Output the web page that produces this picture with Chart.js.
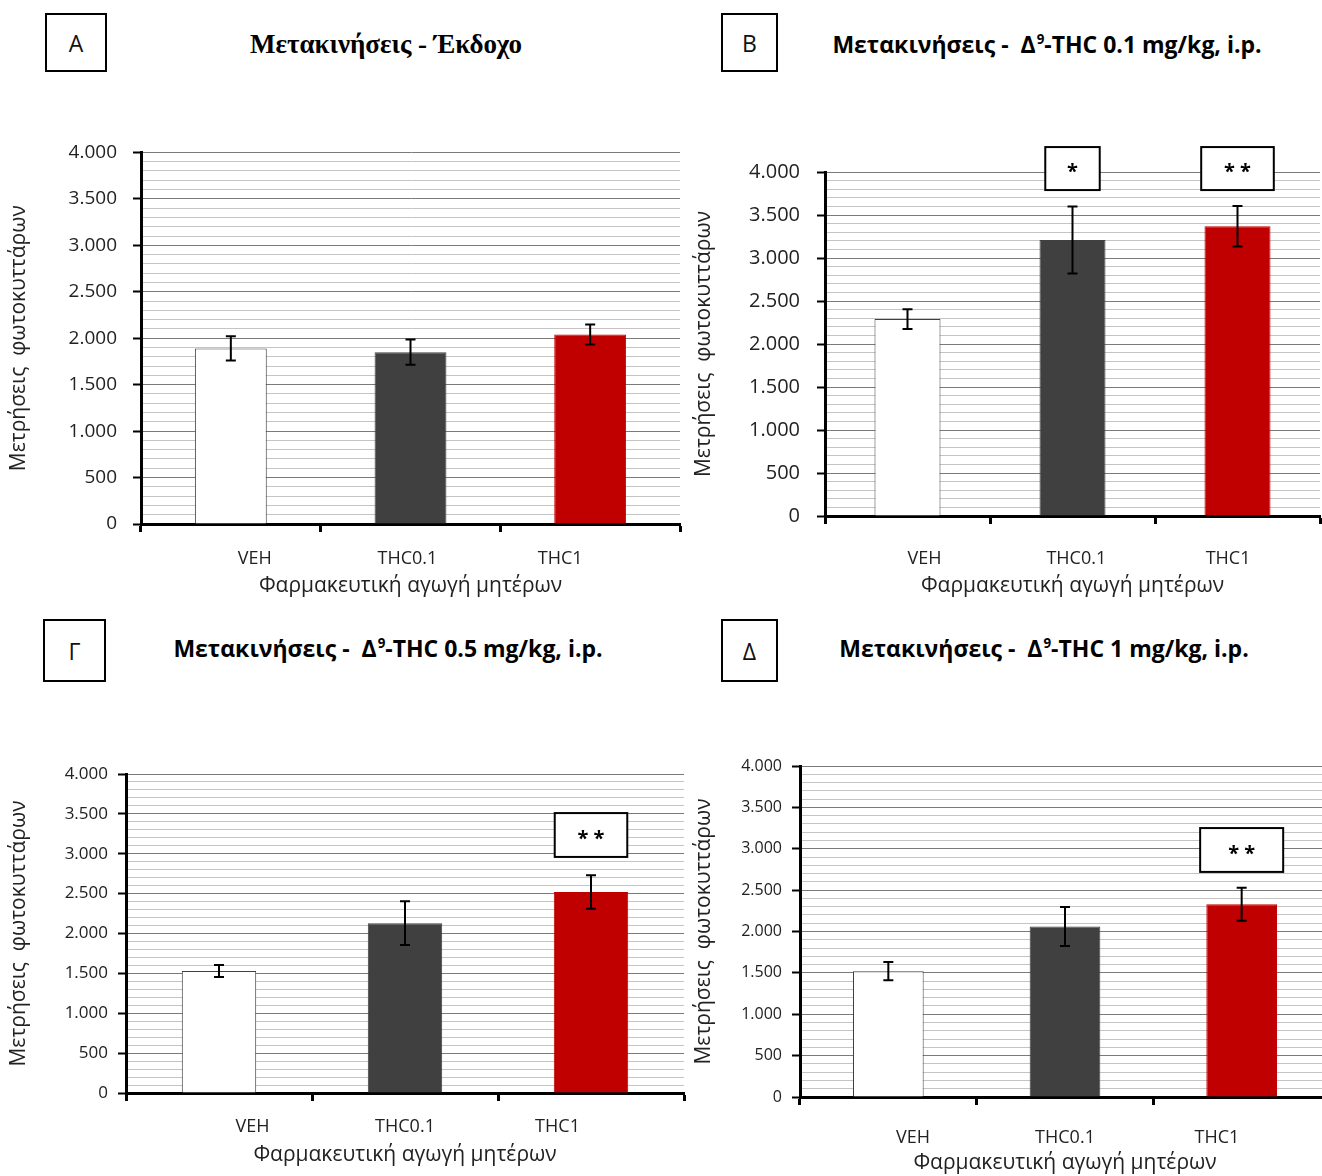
<!DOCTYPE html>
<html>
<head>
<meta charset="utf-8">
<script src="https://cdn.jsdelivr.net/npm/chart.js@4.4.1/dist/chart.umd.min.js"></script>
<style>
  html, body { margin: 0; padding: 0; background: #fff; overflow: hidden; }
  body { width: 1322px; height: 1176px; position: relative; }
  .panel { position: absolute; }
  .letter {
    position: absolute; border: 2px solid #000; box-sizing: border-box;
    font-family: "Open Sans", sans-serif; font-size: 23px; color: #111;
    display: flex; align-items: center; justify-content: center;
  }
  .title {
    position: absolute; white-space: nowrap; transform: translate(-50%, -50%);
    font-family: "Open Sans", sans-serif; font-weight: bold; font-size: 23px; color: #000;
  }
  .title.serif { font-family: "Liberation Serif", serif; font-size: 27px; }
  .title sup { font-size: 58%; vertical-align: 0.7em; line-height: 0; margin-left: 1px; }
</style>
</head>
<body>

<div class="letter" style="left:45px;top:13px;width:62px;height:59px;">A</div>
<div class="title serif" style="left:386px;top:44px;">Μετακινήσεις - Έκδοχο</div>
<div class="letter" style="left:721px;top:13px;width:57px;height:59px;">B</div>
<div class="title" style="left:1047px;top:44px;">Μετακινήσεις -&nbsp; Δ<sup>9</sup>-THC 0.1 mg/kg, i.p.</div>
<div class="letter" style="left:43px;top:619px;width:63px;height:63px;">Γ</div>
<div class="title" style="left:388px;top:648px;">Μετακινήσεις -&nbsp; Δ<sup>9</sup>-THC 0.5 mg/kg, i.p.</div>
<div class="letter" style="left:721px;top:619px;width:57px;height:63px;">Δ</div>
<div class="title" style="left:1044px;top:648px;">Μετακινήσεις -&nbsp; Δ<sup>9</sup>-THC 1 mg/kg, i.p.</div>

<div class="panel" style="left:0px;top:125px;width:690px;height:485px;"><canvas id="chartA"></canvas></div>
<div class="panel" style="left:690px;top:130px;width:632px;height:480px;"><canvas id="chartB"></canvas></div>
<div class="panel" style="left:0px;top:700px;width:690px;height:476px;"><canvas id="chartC"></canvas></div>
<div class="panel" style="left:690px;top:700px;width:645px;height:476px;"><canvas id="chartD"></canvas></div>

<script>
    // ===================================
    // DATA
    // ===================================
    const categories = ['VEH', 'THC0.1', 'THC1'];
    const yTitle = 'Μετρήσεις  φωτοκυττάρων';
    const xTitle = 'Φαρμακευτική αγωγή μητέρων';

    const yMin = 0;
    const yMax = 4000;
    const majorStep = 500;
    const minorStep = 100;

    // A - vehicle
    const vehicleMeans = [1890, 1850, 2040];
    const vehicleErrors = [130, 135, 108];
    const vehicleSig = ['', '', ''];

    // B - THC 0.1 mg/kg
    const thc01Means = [2290, 3210, 3370];
    const thc01Errors = [115, 390, 235];
    const thc01Sig = ['', '*', '**'];

    // Γ - THC 0.5 mg/kg
    const thc05Means = [1530, 2130, 2520];
    const thc05Errors = [75, 275, 210];
    const thc05Sig = ['', '', '**'];

    // Δ - THC 1 mg/kg
    const thc1Means = [1520, 2060, 2330];
    const thc1Errors = [110, 235, 200];
    const thc1Sig = ['', '', '**'];

    const barColors = ['#ffffff', '#404040', '#c00000'];
    const barBorders = ['#404040', '#404040', '#c00000'];

    // 4000 -> "4.000"
    function fmt(v) {
        if (v >= 1000) return Math.floor(v / 1000) + '.' + String(v % 1000).padStart(3, '0');
        return String(v);
    }

    // ===================================
    // ERROR BARS + SIGNIFICANCE BOXES
    // ===================================
    const barExtras = {
        id: 'barExtras',
        afterDatasetsDraw(chart, args, opts) {
            const ctx = chart.ctx;
            const y = chart.scales.y;
            const meta = chart.getDatasetMeta(0);
            const values = chart.data.datasets[0].data;
            ctx.save();
            meta.data.forEach((bar, i) => {
                const m = values[i], e = opts.errors[i];
                const top = y.getPixelForValue(m + e);
                const bot = y.getPixelForValue(m - e);
                ctx.strokeStyle = '#000';
                ctx.lineWidth = 2;
                ctx.beginPath();
                ctx.moveTo(bar.x, top); ctx.lineTo(bar.x, bot);
                ctx.moveTo(bar.x - 5, top); ctx.lineTo(bar.x + 5, top);
                ctx.moveTo(bar.x - 5, bot); ctx.lineTo(bar.x + 5, bot);
                ctx.stroke();

                const label = opts.sig[i];
                if (label) {
                    const catW = bar.width / 0.4;
                    const w = opts.sigWidth[i] * catW;
                    const bt = y.getPixelForValue(opts.sigTop);
                    const bb = y.getPixelForValue(opts.sigBottom);
                    ctx.fillStyle = '#fff';
                    ctx.fillRect(bar.x - w / 2, bt, w, bb - bt);
                    ctx.lineWidth = 2;
                    ctx.strokeRect(bar.x - w / 2, bt, w, bb - bt);
                    ctx.fillStyle = '#000';
                    ctx.font = 'bold 20px "Open Sans", sans-serif';
                    ctx.textAlign = 'center';
                    ctx.textBaseline = 'middle';
                    ctx.fillText(label.split('').join(' '), bar.x, (bt + bb) / 2 + 4);
                }
            });
            ctx.restore();
        }
    };

    // ===================================
    // PANEL FACTORY
    // ===================================
    function makePanel(id, means, errors, sig, p) {
        // label axis: categories sit closer together than the bars (Excel style)
        const pad = (3 / p.labelSpread - 2) / 2;
        const config = {
            type: 'bar',
            data: {
                labels: categories,
                datasets: [{
                    data: means,
                    backgroundColor: barColors,
                    borderColor: barBorders,
                    borderWidth: 1,
                    categoryPercentage: 1.0,
                    barPercentage: 0.4
                }]
            },
            plugins: [barExtras],
            options: {
                responsive: true,
                maintainAspectRatio: false,
                animation: false,
                layout: { padding: { top: p.padTop, right: p.padRight, left: 0, bottom: 0 } },
                plugins: {
                    legend: { display: false },
                    tooltip: { enabled: false },
                    barExtras: {
                        errors: errors,
                        sig: sig,
                        sigWidth: p.sigWidth || [0, 0, 0],
                        sigTop: p.sigTop || 0,
                        sigBottom: p.sigBottom || 0
                    }
                },
                scales: {
                    x: {
                        weight: 0,
                        afterFit: s => { s.height = 8; },
                        grid: {
                            offset: true,
                            drawOnChartArea: false,
                            tickLength: 8,
                            tickWidth: 3,
                            tickColor: '#000'
                        },
                        border: { color: '#000', width: 3 },
                        ticks: { display: false }
                    },
                    xLabels: {
                        type: 'linear',
                        position: 'bottom',
                        weight: 1,
                        offset: false,
                        min: -pad + p.labelShift,
                        max: 2 + pad + p.labelShift,
                        afterFit: s => { s.height = p.xAxisHeight - 8; },
                        afterBuildTicks: s => { s.ticks = categories.map((c, i) => ({ value: i })); },
                        grid: { display: false },
                        border: { display: false },
                        ticks: {
                            color: '#222',
                            padding: p.xTickPad,
                            font: { family: 'Open Sans', size: 18 },
                            callback: v => categories[v]
                        },
                        title: {
                            display: true,
                            text: xTitle,
                            color: '#222',
                            padding: { top: 0, bottom: p.xTitlePad },
                            font: { family: 'Open Sans', size: 21 }
                        }
                    },
                    y: {
                        min: yMin,
                        max: yMax,
                        afterFit: s => { s.width = p.yAxisWidth; },
                        ticks: {
                            stepSize: minorStep,
                            autoSkip: false,
                            maxTicksLimit: 100,
                            color: '#222',
                            padding: p.yTickPad,
                            font: { family: 'Open Sans', size: p.yTickSize },
                            callback: v => (v % majorStep === 0 ? fmt(v) : '')
                        },
                        grid: {
                            color: c => (c.tick && c.tick.value % majorStep === 0 ? '#7a7a7a' : '#c4c4c4'),
                            lineWidth: 1,
                            tickLength: 8,
                            tickWidth: 2,
                            tickColor: c => (c.tick && c.tick.value % majorStep === 0 ? '#000' : 'rgba(0,0,0,0)')
                        },
                        border: { color: '#000', width: 3 },
                        title: {
                            display: true,
                            text: yTitle,
                            color: '#222',
                            padding: { top: p.yTitlePad, bottom: 0 },
                            font: { family: 'Open Sans', size: 21 }
                        }
                    }
                }
            }
        };
        return new Chart(document.getElementById(id).getContext('2d'), config);
    }

    // --- Render Charts ---
    makePanel('chartA', vehicleMeans, vehicleErrors, vehicleSig, {
        padTop: 27, padRight: 10, yAxisWidth: 141, xAxisHeight: 86,
        yTickPad: 16, yTickSize: 19, xTickPad: 8, xTitlePad: 11, yTitlePad: 6,
        labelSpread: 0.85, labelShift: 0.02
    });
    makePanel('chartB', thc01Means, thc01Errors, thc01Sig, {
        padTop: 42, padRight: 2, yAxisWidth: 135, xAxisHeight: 94,
        yTickPad: 17, yTickSize: 20, xTickPad: 16, xTitlePad: 11, yTitlePad: 1,
        labelSpread: 0.92, labelShift: -0.025,
        sigWidth: [0, 0.33, 0.44], sigTop: 4290, sigBottom: 3790
    });
    makePanel('chartC', thc05Means, thc05Errors, thc05Sig, {
        padTop: 74, padRight: 6, yAxisWidth: 126, xAxisHeight: 83,
        yTickPad: 10, yTickSize: 17, xTickPad: 7, xTitlePad: 8, yTitlePad: 6,
        labelSpread: 0.82, labelShift: 0.0,
        sigWidth: [0, 0, 0.39], sigTop: 3510, sigBottom: 2960
    });
    makePanel('chartD', thc1Means, thc1Errors, thc1Sig, {
        padTop: 66, padRight: 5, yAxisWidth: 110, xAxisHeight: 79,
        yTickPad: 10, yTickSize: 16, xTickPad: 14, xTitlePad: 0, yTitlePad: 1,
        labelSpread: 0.86, labelShift: 0.0,
        sigWidth: [0, 0, 0.47], sigTop: 3250, sigBottom: 2720
    });
</script>
</body>
</html>
